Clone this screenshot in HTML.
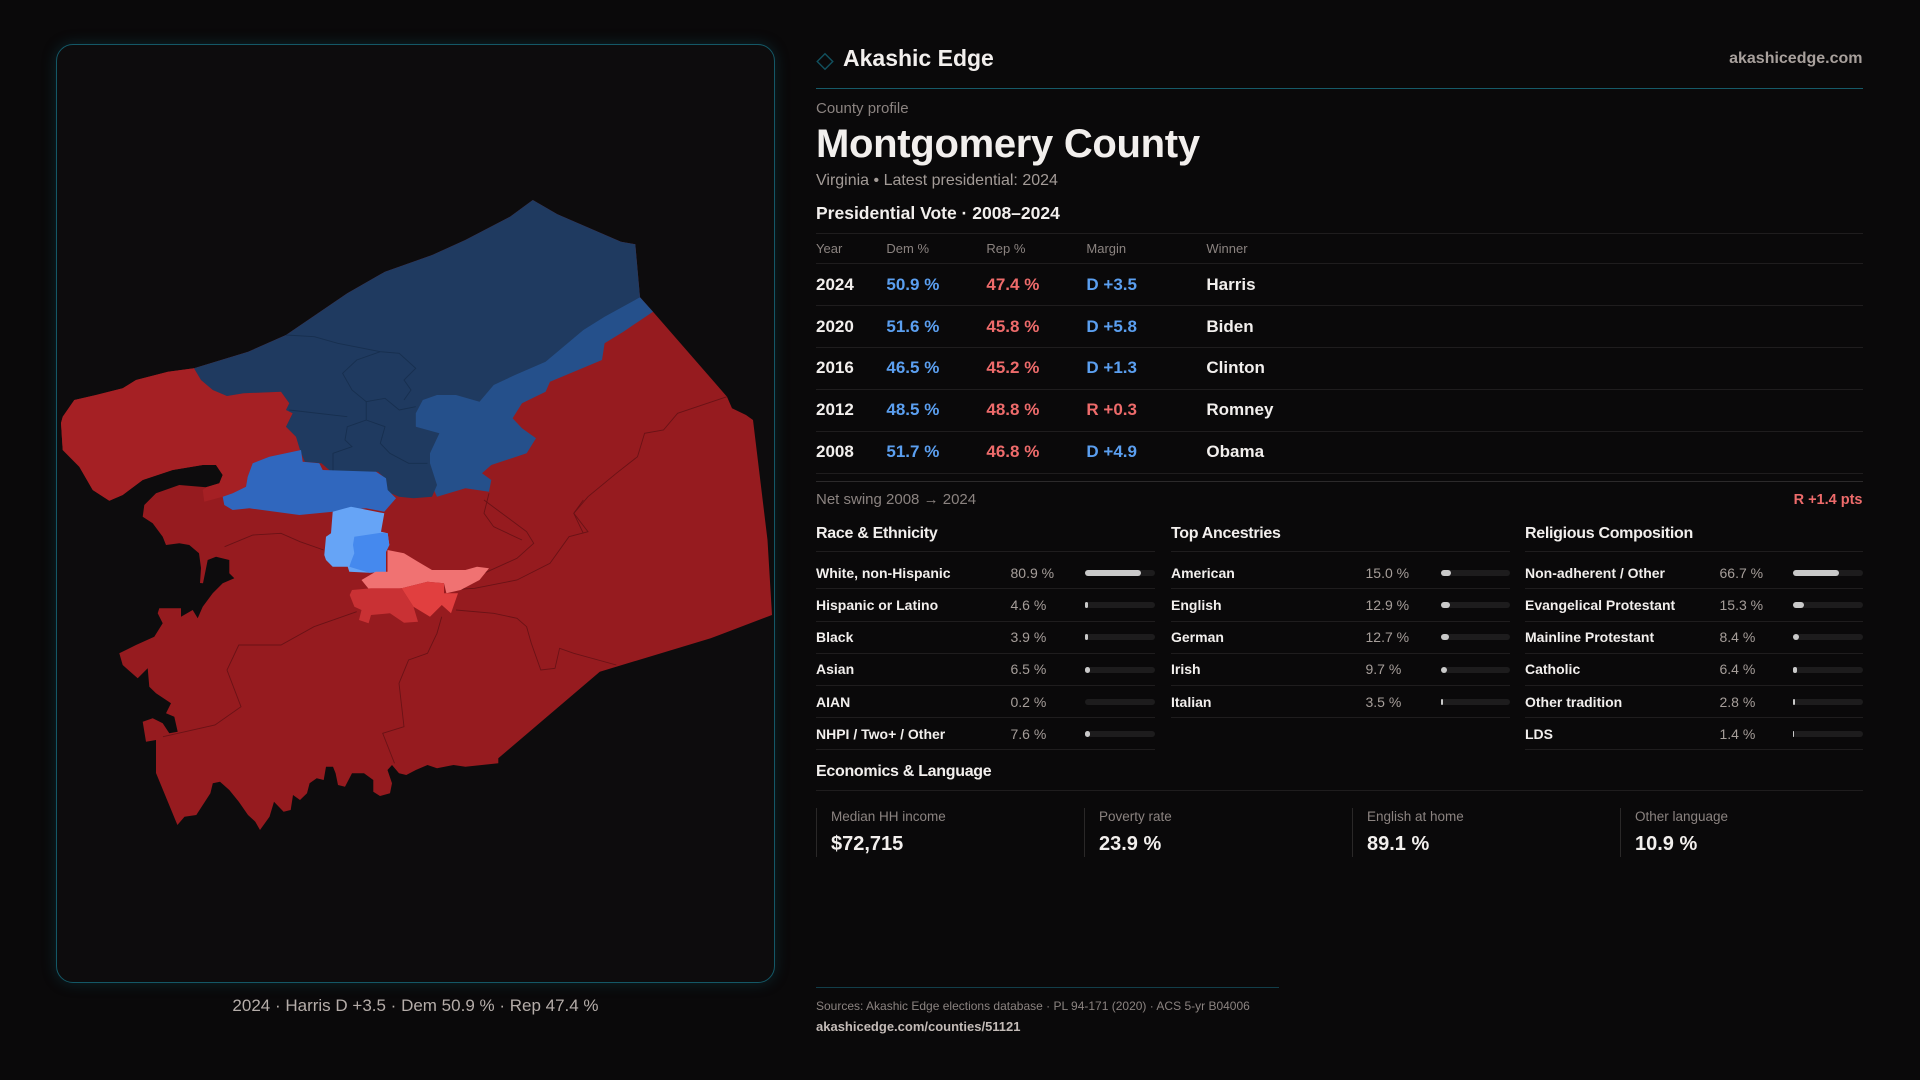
<!DOCTYPE html>
<html><head><meta charset="utf-8">
<style>
*{margin:0;padding:0;box-sizing:border-box}
html,body{width:1920px;height:1080px;background:#0a090a;overflow:hidden}
body{position:relative;font-family:"Liberation Sans",Arial,sans-serif;color:#f2efed}
.t{position:absolute;white-space:nowrap;line-height:1}
.b{font-weight:700}
.g{color:#8b8380}
.gv{color:#a69e9a}
.bl{color:#5b9ff0}
.rd{color:#ee6b6b}
.hl{position:absolute;height:1px;background:#1f1d1e}
.panel{position:absolute;left:56px;top:44px;width:719px;height:939px;border:1.5px solid #145866;border-radius:17px;background:#0d0c0d;box-shadow:0 0 14px rgba(18,90,105,.35)}
.trk{position:absolute;height:6px;width:69.5px;border-radius:3px;background:#1d1c1d}
.fil{position:absolute;left:0;top:0;height:6px;border-radius:3px;background:#c9c9c9}
.vl{position:absolute;width:1px;background:#2a2828;top:808px;height:49px}
</style></head><body>

<div class="panel"></div>
<svg style="position:absolute;left:0;top:0" width="1920" height="1080" viewBox="0 0 1920 1080">
<path fill="#961b1f" d="M532.8,200 L557.4,214.3 L621,241.7 L635.3,244.3 L640,297.3 L653,311.7 L727,396.7 L732,408.3 L746,415 L753,420 L767.5,540 L772,615 L710.7,638.3 L599.8,671.7 L498.3,758.3 L498.3,763.3 L465.4,766.7 L453.5,765 L437,768.3 L427.5,765 L415.8,770 L406.3,775 L399,773.3 L392,765 L387.5,770 L392,783.3 L390,793.3 L380,796 L373.3,791.7 L373.3,780 L364,773.3 L352,773.3 L345,786.7 L338,785 L335.6,773.3 L333,766.7 L326,766.7 L323.7,780 L316.7,778.3 L309.6,783.3 L307,793.3 L300,800 L293,795 L290.7,810 L283.6,811.7 L274,801.7 L269.5,816.7 L260,830 L255.3,821.7 L248,815 L238.8,801.7 L229.3,790 L220,781.7 L212.8,783.3 L210.4,793.3 L196.3,815 L184.5,816.7 L177.4,825 L156,773 L156,740 L146,741.7 L142.7,721.7 L152.7,718.3 L162.7,723.3 L169.3,733.3 L177.7,731.7 L174.3,716.7 L166,713.3 L171,703.3 L156,693.3 L149.3,686.7 L147.7,668.3 L137.7,678.3 L122.7,665 L119.3,653.3 L136,645 L154.3,636.7 L162.7,623.3 L157.7,613.3 L159.3,608.3 L181,608.3 L181,616.7 L192.7,610 L197.7,618.3 L202.7,606.7 L212.7,593.3 L222.7,583.3 L234.3,578.3 L229.3,573.3 L229.3,560 L216,556.7 L207.7,560 L203,583.3 L200,583 L201,568 L199,553.3 L189.3,545 L179.3,543.3 L166,545 L162.7,536.7 L152.7,523.3 L142.7,516.7 L144.3,505 L156,493.3 L179.3,485 L206,487.3 L219.3,483.3 L222.7,475 L216,465 L202.7,465 L172.7,470 L142.7,480 L122.7,495 L109.3,500.7 L92.7,490 L79.3,466.7 L62.7,450 L61,423 L62.7,416.7 L74.3,400 L96,395 L122.7,388.3 L136,380 L168,371.7 L194,368.3 L248.2,351.7 L286,335 L347.3,293.3 L385,271.7 L432.2,255 L465.3,240 L510,216.7 Z"/>
<path fill="#a52024" d="M194,368.3 L168,371.7 L136,380 L122.7,388.3 L96,395 L74.3,400 L62.7,416.7 L61,423 L62.7,450 L79.3,466.7 L92.7,490 L109.3,500.7 L122.7,495 L142.7,480 L172.7,470 L202.7,465 L216,465 L222.7,475 L219.3,483.3 L206,487.3 L202.7,490 L204.3,501.7 L222.7,496.7 L232.7,493.3 L246,486.7 L247.7,476.7 L252.7,463.3 L269.3,456.7 L301,450 L296,436.7 L286,426.7 L292.7,413.3 L286,410 L289.3,403.3 L281,391.7 L243.5,393.3 L227,396 L212.8,390 L201,380 Z"/>
<g fill="none" stroke="#6a1216" stroke-width="0.9">
<polyline points="224.6,546.7 253,535 281,533.3 300,541.7 323.7,550"/>
<polyline points="356.7,611.7 314,626.7 281,645 238.8,645 227,670 241,706.7 215,725 163,736.7"/>
<polyline points="441.7,616.7 437,633.3 427.5,653.3 408.6,660 399,683.3 404,726.7 382.7,733.3 394.5,763.3"/>
<polyline points="456,610 493.6,613.3 517,618.3 526.6,626.7 531.3,643.3 540.8,670 555,668.3 559.6,648.3 573.8,653.3 616.3,665"/>
<polyline points="446.4,590 474.7,588.3 517,580 550,563.3 569,536.7 588,531.7 573.8,513.3 583.3,500"/>
<polyline points="484,500 526.6,531.7 533.7,543.3 517,558.3 465.3,581.7"/>
<polyline points="727,396.7 677.6,413.3 663.5,430 644.6,433.3 637.5,456.7 616.3,473.3 588,496.7 573.8,513.3 583.3,533.3"/>
<polyline points="489,493.3 484,513.3 493.6,526.7 522,540"/>
</g>
<path fill="#25508b" d="M640,297.3 L653,311.7 L623.4,331.7 L604.6,343.3 L602,360 L550,381.7 L545.6,391.7 L522,403.3 L512.6,418.3 L522,428.3 L536,438.3 L526.7,453.3 L491.3,465 L482,473.3 L491.3,480 L489,491.7 L465.4,488.3 L437,496.7 L425,470 L410,400 L480,380 L600,310 Z"/>
<path fill="#1f3a60" d="M194,368.3 L248.2,351.7 L286,335 L347.3,293.3 L385,271.7 L432.2,255 L465.3,240 L510,216.7 L532.8,200 L557.4,214.3 L621,241.7 L635.3,244.3 L640,297.3 L604.6,316.7 L583.4,330 L545.6,361.7 L515,375 L493.7,385 L479.5,401.7 L456,395 L437,395 L422.8,400 L415.8,413.3 L415.8,426.7 L439.4,433.3 L430,453.3 L430,463.3 L437,485 L432,496.7 L413.4,498.3 L399,496.7 L387.5,491.7 L385,478.3 L378,471.7 L333,473.3 L321.4,463.3 L304.8,461.7 L300,450 L296,436.7 L286,426.7 L292.7,413.3 L286,410 L289.3,403.3 L281,391.7 L243.5,393.3 L227,396 L212.8,390 L201,380 Z"/>
<g fill="none" stroke="#172f4f" stroke-width="0.9">
<polyline points="286,335 314.3,336.7 337.8,343.3 380.3,351.7 399.2,353.3 415.7,368.3 404,380 411,390 404,400"/>
<polyline points="380.3,351.7 356.7,360 342.6,373.3 352,390 366.2,401.7 366.2,420 347.3,426.7 345,440 352,446.7 333,453.3 333,473.3"/>
<polyline points="289.3,410 347.3,416.7"/>
<polyline points="366.2,401.7 385,398.3 399.2,410 415.7,406.7"/>
<polyline points="366.2,420 385,426.7 380.3,443.3 389.8,453.3 408.6,463.3 427.5,463.3"/>
</g>
<path fill="#3067be" d="M222.7,496.7 L232.7,493.3 L246,486.7 L247.7,476.7 L252.7,463.3 L269.3,456.7 L301,450 L302.7,461.7 L319.3,463.3 L322.7,470 L376,471.7 L386,478.3 L387.7,490 L396,498.3 L384.3,511.7 L366,508.3 L332.7,511.7 L299.3,515 L249.3,508.3 L232.7,510 L224.3,505 Z"/>
<path fill="#66a4f6" d="M332.7,511.7 L351,506.7 L384.3,513.3 L381,531.7 L387.7,533.3 L389.3,545 L386,551.7 L386,571.7 L369.3,572.7 L349.3,571.7 L347.7,566.7 L332.7,566.7 L326,560 L324.3,555 L326,536.7 L331,533.3 Z"/>
<path fill="#4589ee" d="M354.3,536.7 L381,532.7 L387.7,533.3 L389.3,545 L386,551.7 L386,571.7 L369.3,572.7 L349.3,566.7 L351,561.7 L354.3,553.3 L353,545 Z"/>
<path fill="#f07272" d="M387.5,550 L404,553.3 L418,561.7 L432,570 L465.4,570 L477,566.7 L489,568.3 L479.5,580 L460.6,590 L446.4,593.3 L444,583.3 L427.5,581.7 L401.6,588.3 L371,591.7 L361.5,580 L375.6,571.7 L387.5,571.7 Z"/>
<path fill="#c93134" d="M352,590 L371,588.3 L401.6,588.3 L413.5,606.7 L418,621.7 L404,622.7 L390,613.3 L371,615 L368.6,623.3 L359,620 L361.5,610 L354.4,606.7 L349.7,595 Z"/>
<path fill="#e13f3f" d="M401.6,588.3 L427.5,581.7 L444,583.3 L444,593.3 L458,593.3 L451,613.3 L441.8,605 L430,616.7 L413.5,606.7 Z"/>
<!-- logo diamond -->
<rect x="819.5" y="56" width="11" height="11" transform="rotate(45 825 61.5)" fill="none" stroke="#11505e" stroke-width="1.4"/>
</svg>

<div class="t" style="left:56px;width:719px;text-align:center;top:996.6px;font-size:17px;color:#b5ada9">2024 · Harris D +3.5 · Dem 50.9 % · Rep 47.4 %</div>

<!-- header -->
<div class="t b" style="left:843px;top:46.5px;font-size:23px">Akashic Edge</div>
<div class="t b" style="right:57.5px;top:50.8px;font-size:16px;color:#a8a09c">akashicedge.com</div>
<div class="hl" style="left:816px;width:1046.5px;top:88px;background:#165a68"></div>

<div class="t g" style="left:816px;top:101.3px;font-size:15px">County profile</div>
<div class="t b" style="left:816px;top:124.4px;font-size:40px;letter-spacing:-0.3px">Montgomery County</div>
<div class="t" style="left:816px;top:173.2px;font-size:16px;color:#a39b97">Virginia • Latest presidential: 2024</div>
<div class="t b" style="left:816px;top:205.2px;font-size:17.5px">Presidential Vote · 2008–2024</div>
<div class="hl" style="left:816px;width:1046.5px;top:233px"></div>

<div class="t g" style="left:816px;top:241.7px;font-size:13px">Year</div>
<div class="t g" style="left:886.4px;top:241.7px;font-size:13px">Dem %</div>
<div class="t g" style="left:986.4px;top:241.7px;font-size:13px">Rep %</div>
<div class="t g" style="left:1086.4px;top:241.7px;font-size:13px">Margin</div>
<div class="t g" style="left:1206.4px;top:241.7px;font-size:13px">Winner</div>
<div class="hl" style="left:816px;width:1046.5px;top:263px"></div>

<div class="t b" style="left:816px;top:275.6px;font-size:17px">2024</div>
<div class="t b bl" style="left:886.4px;top:275.6px;font-size:17px">50.9 %</div>
<div class="t b rd" style="left:986.4px;top:275.6px;font-size:17px">47.4 %</div>
<div class="t b bl" style="left:1086.4px;top:275.6px;font-size:17px">D +3.5</div>
<div class="t b" style="left:1206.4px;top:275.6px;font-size:17px">Harris</div>
<div class="hl" style="left:816px;width:1046.5px;top:305px"></div>

<div class="t b" style="left:816px;top:317.5px;font-size:17px">2020</div>
<div class="t b bl" style="left:886.4px;top:317.5px;font-size:17px">51.6 %</div>
<div class="t b rd" style="left:986.4px;top:317.5px;font-size:17px">45.8 %</div>
<div class="t b bl" style="left:1086.4px;top:317.5px;font-size:17px">D +5.8</div>
<div class="t b" style="left:1206.4px;top:317.5px;font-size:17px">Biden</div>
<div class="hl" style="left:816px;width:1046.5px;top:347px"></div>

<div class="t b" style="left:816px;top:359.4px;font-size:17px">2016</div>
<div class="t b bl" style="left:886.4px;top:359.4px;font-size:17px">46.5 %</div>
<div class="t b rd" style="left:986.4px;top:359.4px;font-size:17px">45.2 %</div>
<div class="t b bl" style="left:1086.4px;top:359.4px;font-size:17px">D +1.3</div>
<div class="t b" style="left:1206.4px;top:359.4px;font-size:17px">Clinton</div>
<div class="hl" style="left:816px;width:1046.5px;top:389px"></div>

<div class="t b" style="left:816px;top:401.3px;font-size:17px">2012</div>
<div class="t b bl" style="left:886.4px;top:401.3px;font-size:17px">48.5 %</div>
<div class="t b rd" style="left:986.4px;top:401.3px;font-size:17px">48.8 %</div>
<div class="t b rd" style="left:1086.4px;top:401.3px;font-size:17px">R +0.3</div>
<div class="t b" style="left:1206.4px;top:401.3px;font-size:17px">Romney</div>
<div class="hl" style="left:816px;width:1046.5px;top:431px"></div>

<div class="t b" style="left:816px;top:443.2px;font-size:17px">2008</div>
<div class="t b bl" style="left:886.4px;top:443.2px;font-size:17px">51.7 %</div>
<div class="t b rd" style="left:986.4px;top:443.2px;font-size:17px">46.8 %</div>
<div class="t b bl" style="left:1086.4px;top:443.2px;font-size:17px">D +4.9</div>
<div class="t b" style="left:1206.4px;top:443.2px;font-size:17px">Obama</div>
<div class="hl" style="left:816px;width:1046.5px;top:473px"></div>
<div class="hl" style="left:816px;width:1046.5px;top:481px;background:#2c2a2b"></div>

<div class="t g" style="left:816px;top:492.3px;font-size:15px">Net swing 2008 → 2024</div>
<div class="t b rd" style="right:57.5px;top:492.7px;font-size:14.5px">R +1.4 pts</div>

<!-- columns -->
<div class="t b" style="left:816px;top:525.8px;font-size:16px;letter-spacing:-0.3px">Race &amp; Ethnicity</div>
<div class="t b" style="left:1171px;top:525.8px;font-size:16px;letter-spacing:-0.3px">Top Ancestries</div>
<div class="t b" style="left:1525px;top:525.8px;font-size:16px;letter-spacing:-0.3px">Religious Composition</div>
<div class="hl" style="left:816px;width:338.5px;top:551px"></div>
<div class="hl" style="left:1171px;width:339px;top:551px"></div>
<div class="hl" style="left:1525px;width:337.5px;top:551px"></div>

<!-- col1 -->
<div class="t b" style="left:816px;top:565.85px;font-size:14px">White, non-Hispanic</div>
<div class="t gv" style="left:1010.5px;top:565.85px;font-size:14px">80.9 %</div>
<div class="trk" style="left:1085px;top:570px"><div class="fil" style="width:56.2px"></div></div>
<div class="hl" style="left:816px;width:338.5px;top:588px"></div>

<div class="t b" style="left:816px;top:598.05px;font-size:14px">Hispanic or Latino</div>
<div class="t gv" style="left:1010.5px;top:598.05px;font-size:14px">4.6 %</div>
<div class="trk" style="left:1085px;top:602.2px"><div class="fil" style="width:3.2px"></div></div>
<div class="hl" style="left:816px;width:338.5px;top:621px"></div>

<div class="t b" style="left:816px;top:630.25px;font-size:14px">Black</div>
<div class="t gv" style="left:1010.5px;top:630.25px;font-size:14px">3.9 %</div>
<div class="trk" style="left:1085px;top:634.4px"><div class="fil" style="width:2.7px"></div></div>
<div class="hl" style="left:816px;width:338.5px;top:653px"></div>

<div class="t b" style="left:816px;top:662.45px;font-size:14px">Asian</div>
<div class="t gv" style="left:1010.5px;top:662.45px;font-size:14px">6.5 %</div>
<div class="trk" style="left:1085px;top:666.6px"><div class="fil" style="width:4.5px"></div></div>
<div class="hl" style="left:816px;width:338.5px;top:685px"></div>

<div class="t b" style="left:816px;top:694.65px;font-size:14px">AIAN</div>
<div class="t gv" style="left:1010.5px;top:694.65px;font-size:14px">0.2 %</div>
<div class="trk" style="left:1085px;top:698.8px"></div>
<div class="hl" style="left:816px;width:338.5px;top:717px"></div>

<div class="t b" style="left:816px;top:726.85px;font-size:14px">NHPI / Two+ / Other</div>
<div class="t gv" style="left:1010.5px;top:726.85px;font-size:14px">7.6 %</div>
<div class="trk" style="left:1085px;top:731px"><div class="fil" style="width:5.3px"></div></div>
<div class="hl" style="left:816px;width:338.5px;top:749px"></div>

<!-- col2 -->
<div class="t b" style="left:1171px;top:565.85px;font-size:14px">American</div>
<div class="t gv" style="left:1365.5px;top:565.85px;font-size:14px">15.0 %</div>
<div class="trk" style="left:1440.5px;top:570px"><div class="fil" style="width:10.4px"></div></div>
<div class="hl" style="left:1171px;width:339px;top:588px"></div>

<div class="t b" style="left:1171px;top:598.05px;font-size:14px">English</div>
<div class="t gv" style="left:1365.5px;top:598.05px;font-size:14px">12.9 %</div>
<div class="trk" style="left:1440.5px;top:602.2px"><div class="fil" style="width:9px"></div></div>
<div class="hl" style="left:1171px;width:339px;top:621px"></div>

<div class="t b" style="left:1171px;top:630.25px;font-size:14px">German</div>
<div class="t gv" style="left:1365.5px;top:630.25px;font-size:14px">12.7 %</div>
<div class="trk" style="left:1440.5px;top:634.4px"><div class="fil" style="width:8.8px"></div></div>
<div class="hl" style="left:1171px;width:339px;top:653px"></div>

<div class="t b" style="left:1171px;top:662.45px;font-size:14px">Irish</div>
<div class="t gv" style="left:1365.5px;top:662.45px;font-size:14px">9.7 %</div>
<div class="trk" style="left:1440.5px;top:666.6px"><div class="fil" style="width:6.7px"></div></div>
<div class="hl" style="left:1171px;width:339px;top:685px"></div>

<div class="t b" style="left:1171px;top:694.65px;font-size:14px">Italian</div>
<div class="t gv" style="left:1365.5px;top:694.65px;font-size:14px">3.5 %</div>
<div class="trk" style="left:1440.5px;top:698.8px"><div class="fil" style="width:2.4px"></div></div>
<div class="hl" style="left:1171px;width:339px;top:717px"></div>

<!-- col3 -->
<div class="t b" style="left:1525px;top:565.85px;font-size:14px">Non-adherent / Other</div>
<div class="t gv" style="left:1719.5px;top:565.85px;font-size:14px">66.7 %</div>
<div class="trk" style="left:1793px;top:570px"><div class="fil" style="width:46.4px"></div></div>
<div class="hl" style="left:1525px;width:337.5px;top:588px"></div>

<div class="t b" style="left:1525px;top:598.05px;font-size:14px">Evangelical Protestant</div>
<div class="t gv" style="left:1719.5px;top:598.05px;font-size:14px">15.3 %</div>
<div class="trk" style="left:1793px;top:602.2px"><div class="fil" style="width:10.6px"></div></div>
<div class="hl" style="left:1525px;width:337.5px;top:621px"></div>

<div class="t b" style="left:1525px;top:630.25px;font-size:14px">Mainline Protestant</div>
<div class="t gv" style="left:1719.5px;top:630.25px;font-size:14px">8.4 %</div>
<div class="trk" style="left:1793px;top:634.4px"><div class="fil" style="width:5.8px"></div></div>
<div class="hl" style="left:1525px;width:337.5px;top:653px"></div>

<div class="t b" style="left:1525px;top:662.45px;font-size:14px">Catholic</div>
<div class="t gv" style="left:1719.5px;top:662.45px;font-size:14px">6.4 %</div>
<div class="trk" style="left:1793px;top:666.6px"><div class="fil" style="width:4.4px"></div></div>
<div class="hl" style="left:1525px;width:337.5px;top:685px"></div>

<div class="t b" style="left:1525px;top:694.65px;font-size:14px">Other tradition</div>
<div class="t gv" style="left:1719.5px;top:694.65px;font-size:14px">2.8 %</div>
<div class="trk" style="left:1793px;top:698.8px"><div class="fil" style="width:1.9px"></div></div>
<div class="hl" style="left:1525px;width:337.5px;top:717px"></div>

<div class="t b" style="left:1525px;top:726.85px;font-size:14px">LDS</div>
<div class="t gv" style="left:1719.5px;top:726.85px;font-size:14px">1.4 %</div>
<div class="trk" style="left:1793px;top:731px"><div class="fil" style="width:1.2px"></div></div>
<div class="hl" style="left:1525px;width:337.5px;top:749px"></div>

<!-- economics -->
<div class="t b" style="left:816px;top:763.5px;font-size:16px;letter-spacing:-0.3px">Economics &amp; Language</div>
<div class="hl" style="left:816px;width:1046.5px;top:790px"></div>

<div class="vl" style="left:816px"></div>
<div class="t g" style="left:831px;top:809.9px;font-size:13.5px">Median HH income</div>
<div class="t b" style="left:831px;top:833.8px;font-size:20px">$72,715</div>

<div class="vl" style="left:1084px"></div>
<div class="t g" style="left:1099px;top:809.9px;font-size:13.5px">Poverty rate</div>
<div class="t b" style="left:1099px;top:833.8px;font-size:20px">23.9 %</div>

<div class="vl" style="left:1352px"></div>
<div class="t g" style="left:1367px;top:809.9px;font-size:13.5px">English at home</div>
<div class="t b" style="left:1367px;top:833.8px;font-size:20px">89.1 %</div>

<div class="vl" style="left:1620px"></div>
<div class="t g" style="left:1635px;top:809.9px;font-size:13.5px">Other language</div>
<div class="t b" style="left:1635px;top:833.8px;font-size:20px">10.9 %</div>

<!-- footer -->
<div class="hl" style="left:816px;width:463px;top:986.5px;background:#123e4a"></div>
<div class="t g" style="left:816px;top:999.8px;font-size:12px">Sources: Akashic Edge elections database · PL 94-171 (2020) · ACS 5-yr B04006</div>
<div class="t b" style="left:816px;top:1020px;font-size:13px;color:#c4bcb8">akashicedge.com/counties/51121</div>

</body></html>
